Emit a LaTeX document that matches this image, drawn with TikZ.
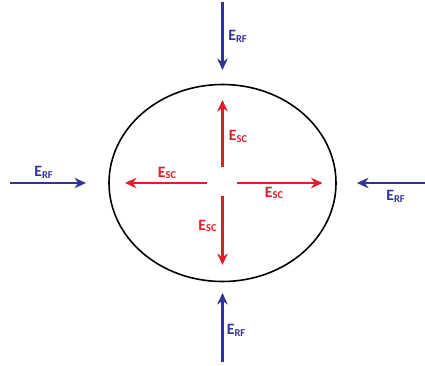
\documentclass[tikz,border=0pt]{standalone}
\usepackage{fontspec}
\setmainfont{Carlito}
\usepackage{xcolor}
\usetikzlibrary{shapes.geometric, arrows.meta, positioning, calc}
\definecolor{rfblue}{RGB}{48,52,150}
\definecolor{scred}{RGB}{225,30,40}

\begin{document}
\begin{tikzpicture}[
		every node/.style={font=\small\bfseries},
		cell/.style={draw=black, ellipse, line width=0.9pt, minimum width=4.54cm, minimum height=3.94cm},
		rf/.style={line width=1.2pt, -{Stealth[length=2.3mm, width=2.1mm]}, draw=rfblue},
		sc/.style={line width=1.2pt, -{Stealth[length=2.3mm, width=2.1mm]}, draw=scred},
		rflbl/.style={text=rfblue, inner sep=0pt},
		sclbl/.style={text=scred, inner sep=0pt}
		]
		\useasboundingbox (0,0) rectangle (8.5,7.3);
		
		% Ellipse
		\node[cell] (cell) at (4.45,3.64) {};
		\coordinate (c) at (cell.center);
		
		% Red arrows (inside)
		\coordinate (upA) at ($(c)+(0,0.32)$);
		\coordinate (upB) at ($(c)+(0,1.66)$);
		\coordinate (dnA) at ($(c)+(0,-0.26)$);
		\coordinate (dnB) at ($(c)+(0,-1.64)$);
		\coordinate (lfA) at ($(c)+(-0.31,0)$);
		\coordinate (lfB) at ($(c)+(-1.95,0)$);
		\coordinate (rtA) at ($(c)+(0.29,0)$);
		\coordinate (rtB) at ($(c)+(2.0,0)$);
		\draw[sc] (upA) -- (upB);
		\draw[sc] (dnA) -- (dnB);
		\draw[sc] (lfA) -- (lfB);
		\draw[sc] (rtA) -- (rtB);
		
		\node[sclbl] (scup) at ($(c)+(0.32,0.93)$) {E\textsubscript{SC}};
		\node[sclbl] (scdn) at ($(c)+(-0.29,-0.86)$) {E\textsubscript{SC}};
		\node[sclbl] (sclf) at ($(c)+(-1.1,0.2)$) {E\textsubscript{SC}};
		\node[sclbl] (scrt) at ($(c)+(1.04,-0.2)$) {E\textsubscript{SC}};
		
		% Blue arrows (outside)
		\coordinate (topA) at (4.45,7.25);
		\coordinate (topB) at (4.45,5.9);
		\coordinate (botA) at (4.45,0.06);
		\coordinate (botB) at (4.45,1.44);
		\coordinate (lefA) at (0.2,3.64);
		\coordinate (lefB) at (1.72,3.64);
		\coordinate (rigA) at (8.5,3.64);
		\coordinate (rigB) at (7.14,3.64);
		\draw[rf] (topA) -- (topB);
		\draw[rf] (botA) -- (botB);
		\draw[rf] (lefA) -- (lefB);
		\draw[rf] (rigA) -- (rigB);
		
		\node[rflbl] (rftop) at (4.76,6.58) {E\textsubscript{RF}};
		\node[rflbl] (rfbot) at (4.73,0.7) {E\textsubscript{RF}};
		\node[rflbl] (rflef) at (0.88,3.86) {E\textsubscript{RF}};
		\node[rflbl] (rfrig) at (7.92,3.37) {E\textsubscript{RF}};
	\end{tikzpicture}
\end{document}
